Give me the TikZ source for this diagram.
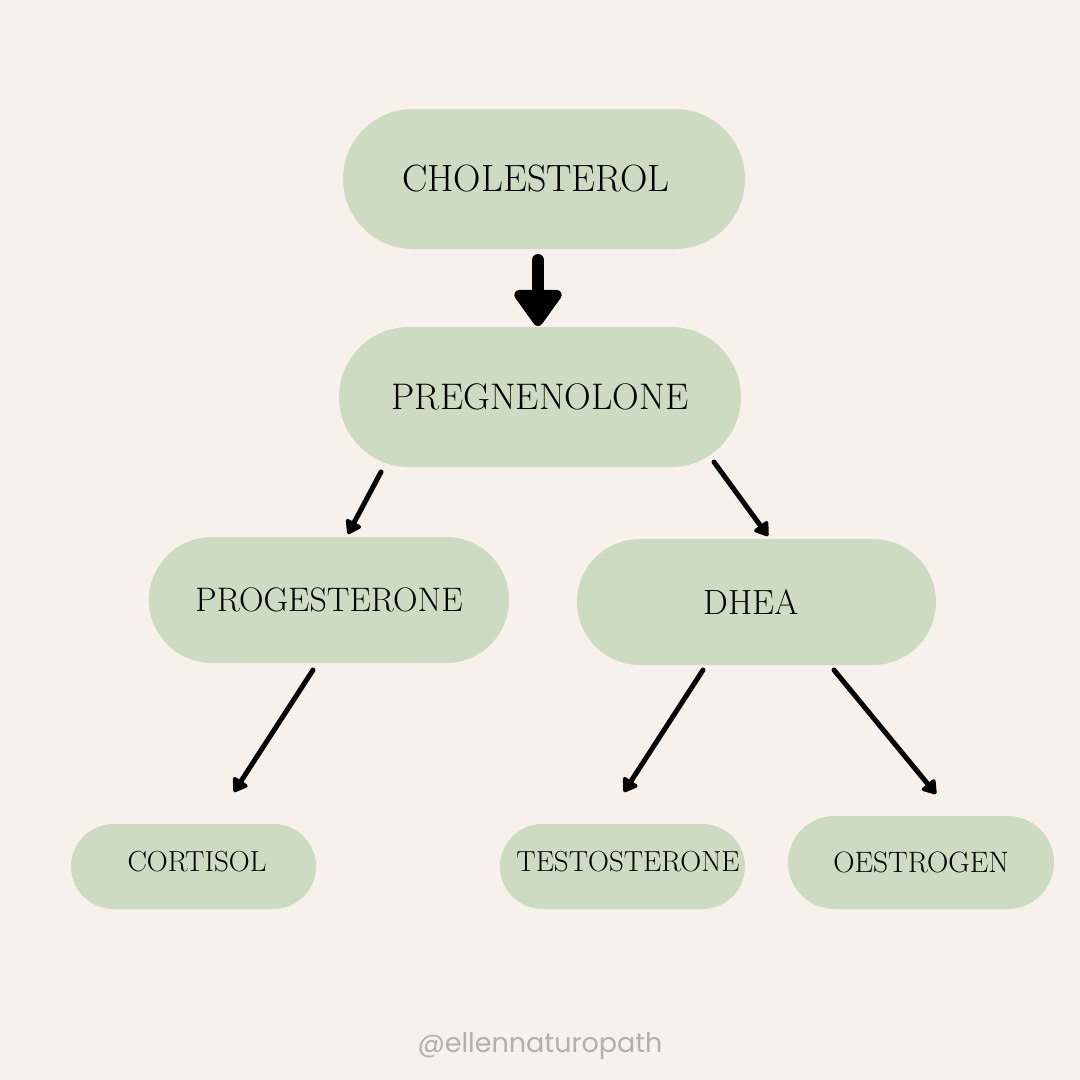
\documentclass[tikz,border=0pt]{standalone}
\usepackage{fontspec}
\newfontfamily\handlefont{Poppins}
\usetikzlibrary{arrows.meta}
\definecolor{bg}{HTML}{F8F0EA}
\definecolor{pill}{HTML}{CCDBC1}
\definecolor{handle}{HTML}{B3AFAB}
\tikzset{
  arr/.style={line width=5pt, line cap=round, -{Triangle[width=19pt,length=15pt,round]}},
  bigarr/.style={line width=12pt, line cap=round, -{Triangle[width=54pt,length=40pt,round]}},
  pl/.style args={#1/#2}{fill=pill, draw=none, minimum width=#1pt, minimum height=#2pt, rounded corners=#2*0.5pt-0.01pt, inner sep=0pt},
}
\begin{document}
\begin{tikzpicture}[x=1pt,y=-1pt]
\useasboundingbox (0,0) rectangle (1080,1080);
\fill[bg] (0,0) rectangle (1080,1080);
% pills
\node[pl=402/140] (chol) at (544,179) {};
\node[pl=402/140] (preg) at (540,397) {};
\node[pl=360/126] (prog) at (329,600) {};
\node[pl=359/126] (dhea) at (756.5,602) {};
\node[pl=245/85] (cort) at (193.5,866.5) {};
\node[pl=245/85] (test) at (622.5,866.5) {};
\node[pl=266/93] (oest) at (921,862.5) {};
% labels
\node[font=\fontsize{38}{40}\selectfont] (tchol) at (536,179) {CHOLESTEROL};
\node[font=\fontsize{37}{39}\selectfont] (tpreg) at (540,397) {PREGNENOLONE};
\node[font=\fontsize{34}{36}\selectfont] (tprog) at (329,600) {PROGESTERONE};
\node[font=\fontsize{35}{37}\selectfont] (tdhea) at (751,602) {DHEA};
\node[font=\fontsize{29}{31}\selectfont] (tcort) at (197,862) {CORTISOL};
\node[font=\fontsize{29}{31}\selectfont] (ttest) at (628,862) {TESTOSTERONE};
\node[font=\fontsize{29.5}{31}\selectfont] (toest) at (921,862) {OESTROGEN};
\node[font=\handlefont\fontsize{27}{29}\selectfont, text=handle] (handle) at (540,1046) {@ellennaturopath};
% arrows
\coordinate (c1) at (538,260); \coordinate (c2) at (538,326);
\draw[bigarr] (c1) -- (c2);
\coordinate (p1) at (381,472); \coordinate (p2) at (348,534);
\draw[arr] (p1) -- (p2);
\coordinate (d1) at (714,462); \coordinate (d2) at (768,536);
\draw[arr] (d1) -- (d2);
\coordinate (r1) at (313,670); \coordinate (r2) at (234,792);
\draw[arr] (r1) -- (r2);
\coordinate (t1) at (703,670); \coordinate (t2) at (624,792);
\draw[arr] (t1) -- (t2);
\coordinate (o1) at (834,670); \coordinate (o2) at (936,794);
\draw[arr] (o1) -- (o2);
\end{tikzpicture}
\end{document}
